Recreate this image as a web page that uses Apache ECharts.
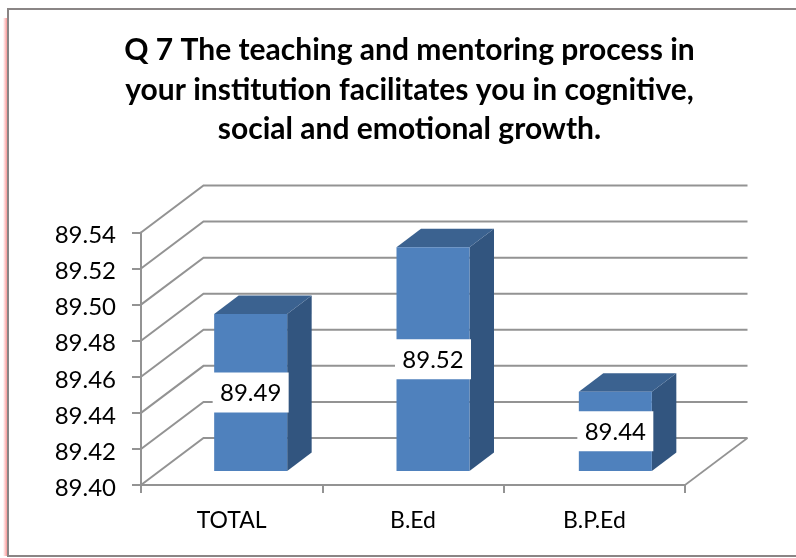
<!DOCTYPE html>
<html><head><meta charset="utf-8">
<style>html,body{margin:0;padding:0;background:#fff}#c{width:796px;height:558px}</style>
<script src="https://cdn.jsdelivr.net/npm/echarts@6/dist/echarts.min.js"></script>
</head><body><div id="c"></div>
<script>
const categories = ['TOTAL', 'B.Ed', 'B.P.Ed'];
const barValues = [89.487, 89.524, 89.444];
const barLabels = ['89.49', '89.52', '89.44'];
const wallTicks = [89.40, 89.42, 89.44, 89.46, 89.48, 89.50, 89.52, 89.54];
const titleLines = ['Q 7 The teaching and mentoring process in', 'your institution facilitates you in cognitive,', 'social and emotional growth.'];

const FONT = 'Lato';
const WALL = [62.5, -47];    // depth of the plot box
const BAR_OFF = [19, -14];   // front plane of bars relative to the front of the box
const BAR_DEPTH = [24.5, -18.5];
const BAR_W = 73;
const GRAY = '#939393';

const chart = echarts.init(document.getElementById('c'), null, {renderer: 'canvas'});
chart.setOption({
  animation: false,
  backgroundColor: '#fff',
  title: {
    text: titleLines.join('\n'), left: 404.5, top: 26, textAlign: 'center',
    textStyle: {fontFamily: FONT, fontWeight: 'bold', fontSize: 30, color: '#000', lineHeight: 39.5}
  },
  graphic: [
    {type: 'rect', z: -10, shape: {x: 3, y: 18, width: 5, height: 538},
     style: {fill: new echarts.graphic.LinearGradient(0, 0, 1, 0, [{offset: 0, color: '#ffffff'}, {offset: 1, color: '#f88080'}])}},
    {type: 'rect', z: -9, shape: {x: 8, y: 9, width: 800, height: 547},
     style: {fill: '#fff', stroke: '#8a8585', lineWidth: 2}}
  ],
  grid: {left: 141, right: 111, top: 232.5, bottom: 73},
  xAxis: {
    type: 'category', data: categories,
    axisLine: {lineStyle: {color: GRAY, width: 2}},
    axisTick: {show: true, alignWithLabel: false, interval: 0, length: 8, lineStyle: {color: GRAY, width: 2}},
    axisLabel: {fontFamily: FONT, fontSize: 23, color: '#000', margin: 24},
    splitLine: {show: false}
  },
  yAxis: {
    type: 'value', min: 89.40, max: 89.54, interval: 0.02,
    axisLine: {show: true, lineStyle: {color: GRAY, width: 2}},
    axisTick: {show: true, length: 9, lineStyle: {color: GRAY, width: 2}},
    axisLabel: {show: true, showMinLabel: true, showMaxLabel: true, fontFamily: FONT, fontSize: 24, color: '#000', margin: 25,
      verticalAlign: 'top', lineHeight: 6, formatter: v => v.toFixed(2)},
    splitLine: {show: false}
  },
  series: [
    {
      type: 'custom', coordinateSystem: 'cartesian2d', z: 1, silent: true,
      encode: {y: 0},
      data: wallTicks.map(v => [v]),
      renderItem(params, api) {
        const y = api.coord([0, api.value(0)])[1];
        const L = params.coordSys.x, R = L + params.coordSys.width;
        const children = [{
          type: 'polyline',
          shape: {points: [[L, y], [L + WALL[0], y + WALL[1]], [R + WALL[0], y + WALL[1]]]},
          style: {stroke: GRAY, lineWidth: 2, fill: null}
        }];
        if (params.dataIndex === 0) children.push({
          type: 'line',
          shape: {x1: R, y1: y, x2: R + WALL[0], y2: y + WALL[1]},
          style: {stroke: GRAY, lineWidth: 1.6}
        });
        return {type: 'group', children};
      }
    },
    {
      type: 'custom', coordinateSystem: 'cartesian2d', z: 2, silent: true,
      encode: {x: 0, y: 1},
      data: categories.map((c, i) => [i, barValues[i], barLabels[i]]),
      renderItem(params, api) {
        const top = api.coord([api.value(0), api.value(1)]);
        const base = api.coord([api.value(0), 89.40]);
        const cx = top[0] + BAR_OFF[0] + params.dataIndex;
        const x0 = cx - BAR_W / 2, x1 = cx + BAR_W / 2;
        const yT = top[1] + BAR_OFF[1], yB = base[1] + BAR_OFF[1];
        const [dx, dy] = BAR_DEPTH;
        return {type: 'group', children: [
          {type: 'polygon', shape: {points: [[x1, yT], [x1 + dx, yT + dy], [x1 + dx, yB + dy], [x1, yB]]}, style: {fill: '#32557f'}},
          {type: 'polygon', shape: {points: [[x0, yT], [x0 + dx, yT + dy], [x1 + dx, yT + dy], [x1, yT]]}, style: {fill: '#3b6290'}},
          {type: 'rect', shape: {x: x0, y: yT, width: BAR_W, height: yB - yT}, style: {fill: '#4f81bd'}},
          {type: 'rect', shape: {x: cx - 38, y: (yT + yB) / 2 - 20, width: 76, height: 40}, style: {fill: '#fff'}},
          {type: 'text', style: {text: api.value(2), x: cx, y: (yT + yB) / 2 + 1, align: 'center', verticalAlign: 'middle',
            fontFamily: FONT, fontSize: 24, fill: '#000'}}
        ]};
      }
    }
  ]
});
</script></body></html>
